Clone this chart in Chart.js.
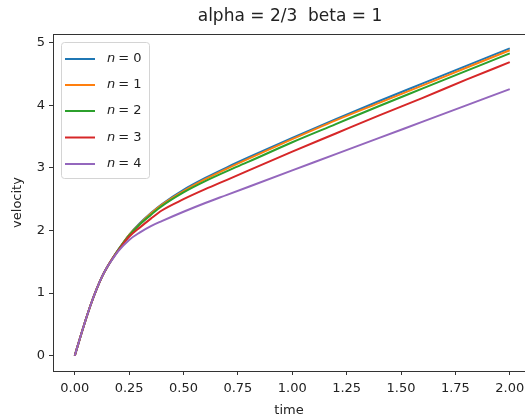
<!DOCTYPE html>
<html>
<head>
<meta charset="utf-8">
<script src="https://cdn.jsdelivr.net/npm/chart.js@4.4.0/dist/chart.umd.min.js"></script>
<style>
  body { margin: 0; background: #fff; }
  #wrap { width: 525px; height: 419px; }
</style>
</head>
<body>
<div id="wrap"><canvas id="velChart" width="525" height="419"></canvas></div>
<script>
// time samples
const times = [0, 0.025, 0.05, 0.075, 0.1, 0.125, 0.15, 0.175, 0.2, 0.25, 0.3, 0.35, 0.4, 0.5, 0.6, 0.7, 0.8, 1.0, 1.2, 1.4, 1.6, 1.8, 2.0];

// velocity for each n
const vel_n0 = [0, 0.29, 0.57, 0.83, 1.06, 1.26, 1.42, 1.56, 1.69, 1.93, 2.12, 2.28, 2.42, 2.65, 2.84, 3.01, 3.17, 3.48, 3.78, 4.07, 4.35, 4.63, 4.91];
const vel_n1 = [0, 0.29, 0.57, 0.83, 1.06, 1.26, 1.42, 1.56, 1.69, 1.93, 2.11, 2.27, 2.41, 2.63, 2.82, 2.99, 3.15, 3.46, 3.76, 4.04, 4.32, 4.60, 4.88];
const vel_n2 = [0, 0.29, 0.57, 0.83, 1.06, 1.26, 1.42, 1.56, 1.69, 1.92, 2.10, 2.25, 2.39, 2.61, 2.79, 2.95, 3.10, 3.41, 3.70, 3.99, 4.27, 4.55, 4.83];
const vel_n3 = [0, 0.29, 0.57, 0.83, 1.06, 1.26, 1.42, 1.56, 1.68, 1.90, 2.05, 2.19, 2.32, 2.50, 2.66, 2.81, 2.96, 3.26, 3.55, 3.84, 4.12, 4.41, 4.69];
const vel_n4 = [0, 0.29, 0.57, 0.83, 1.06, 1.26, 1.42, 1.55, 1.67, 1.85, 1.97, 2.07, 2.15, 2.30, 2.44, 2.57, 2.70, 2.96, 3.22, 3.48, 3.74, 4.00, 4.26];

const seriesNames = ['0', '1', '2', '3', '4'];
const seriesColors = ['#1f77b4', '#ff7f0e', '#2ca02c', '#d62728', '#9467bd'];
const allVel = [vel_n0, vel_n1, vel_n2, vel_n3, vel_n4];

const xTicks = [0, 0.25, 0.5, 0.75, 1.0, 1.25, 1.5, 1.75, 2.0];
const yTicks = [0, 1, 2, 3, 4, 5];

const titleText = 'alpha = 2/3  beta = 1';
const FONT = 'DejaVu Sans';

const datasets = allVel.map((vals, i) => ({
  label: seriesNames[i],
  data: times.map((t, j) => ({ x: t, y: vals[j] })),
  borderColor: seriesColors[i],
  borderWidth: 2,
  pointRadius: 0,
  fill: false,
  cubicInterpolationMode: 'monotone',
  order: 4 - i
}));

// title, top spine and matplotlib style legend box
const extras = {
  id: 'extras',
  afterDraw(chart) {
    const ctx = chart.ctx;
    const area = chart.chartArea;
    ctx.save();
    ctx.strokeStyle = '#333';
    ctx.lineWidth = 1;
    ctx.beginPath();
    ctx.moveTo(area.left, area.top + 0.5);
    ctx.lineTo(chart.width, area.top + 0.5);
    ctx.stroke();

    // title centred over the axes (right spine sits just past the canvas)
    ctx.fillStyle = '#222';
    ctx.font = '17px ' + FONT;
    ctx.textAlign = 'center';
    ctx.textBaseline = 'middle';
    ctx.fillText(titleText, 290, 17);

    // legend
    const lx = 61, ly = 42, lw = 88, lh = 136;
    ctx.fillStyle = 'rgba(255,255,255,0.8)';
    ctx.strokeStyle = '#d4d4d4';
    ctx.beginPath();
    ctx.roundRect(lx + 0.5, ly + 0.5, lw, lh, 3);
    ctx.fill();
    ctx.stroke();
    const rowY = [59, 85, 111, 137.5, 164];
    chart.data.datasets.forEach((ds, i) => {
      const y = rowY[i];
      ctx.strokeStyle = ds.borderColor;
      ctx.lineWidth = 2;
      ctx.beginPath();
      ctx.moveTo(65, y);
      ctx.lineTo(95, y);
      ctx.stroke();
      ctx.fillStyle = '#222';
      ctx.textBaseline = 'middle';
      ctx.textAlign = 'left';
      ctx.font = 'italic 13px ' + FONT;
      ctx.fillText('n', 107, y);
      const nw = ctx.measureText('n').width;
      ctx.font = '13px ' + FONT;
      ctx.fillText('= ' + ds.label, 107 + nw + 3, y);
    });
    ctx.restore();
  }
};

new Chart(document.getElementById('velChart'), {
  type: 'line',
  data: { datasets: datasets },
  options: {
    responsive: false,
    animation: false,
    layout: { padding: { left: 0, right: 0, top: 34, bottom: 0 } },
    plugins: {
      legend: { display: false },
      tooltip: { enabled: false },
      title: { display: false }
    },
    scales: {
      x: {
        type: 'linear',
        min: -0.1,
        max: 2.07,
        afterBuildTicks: (scale) => { scale.ticks = xTicks.map(v => ({ value: v })); },
        afterFit: (scale) => { scale.height = 48; scale.paddingLeft = 0; scale.paddingRight = 0; },
        grid: { drawOnChartArea: false, drawTicks: true, tickLength: 4, color: '#333' },
        border: { display: true, color: '#333', width: 1 },
        ticks: {
          color: '#222',
          padding: 6,
          maxRotation: 0,
          font: { family: FONT, size: 13 },
          callback: (v) => v.toFixed(2)
        },
        title: {
          display: true,
          text: 'time',
          color: '#222',
          font: { family: FONT, size: 13 },
          padding: { top: 0, bottom: 1 }
        }
      },
      y: {
        type: 'linear',
        min: -0.245,
        max: 5.14,
        afterBuildTicks: (scale) => { scale.ticks = yTicks.map(v => ({ value: v })); },
        afterFit: (scale) => { scale.width = 53; scale.paddingTop = 0; scale.paddingBottom = 0; },
        grid: { drawOnChartArea: false, drawTicks: true, tickLength: 4, color: '#333' },
        border: { display: true, color: '#333', width: 1 },
        ticks: {
          color: '#222',
          padding: 4,
          font: { family: FONT, size: 13 },
          callback: (v) => String(v)
        },
        title: {
          display: true,
          text: 'velocity',
          color: '#222',
          font: { family: FONT, size: 13 },
          padding: { top: 10, bottom: 0 }
        }
      }
    }
  },
  plugins: [extras]
});
</script>
</body>
</html>
